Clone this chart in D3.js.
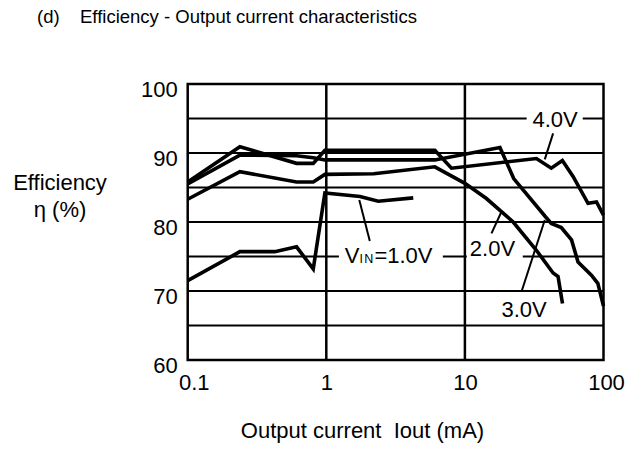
<!DOCTYPE html>
<html><head><meta charset="utf-8">
<script src="https://cdn.jsdelivr.net/npm/d3@7"></script>
<style>
body{margin:0;background:#fff}
svg{display:block}
text{font-family:"Liberation Sans",Arial,Helvetica,sans-serif;fill:#000}
</style>
</head><body>
<svg id="c" width="642" height="450"></svg>
<script>
// ---- data ----
const xTicks = [0.1, 1, 10, 100];
const yTicks = [60, 70, 80, 90, 100];
const yGrid = [65, 70, 75, 80, 85, 90, 95];
const xGrid = [1, 10];

const seriesNames = ["VIN=1.0V", "2.0V", "3.0V", "4.0V"];
const v10Current = [0.1, 0.238, 0.425, 0.61, 0.805, 0.977, 1.75, 2.37, 4.24];
const v10Eff     = [71.5, 75.7, 75.7, 76.4, 73.2, 84.2, 83.7, 83.0, 83.5];
const v20Current = [0.1, 0.238, 0.61, 0.805, 0.977, 2.2, 6.07, 10, 14.3, 22.3, 32.8, 43.3, 47, 50.6];
const v20Eff     = [83.3, 87.3, 85.8, 85.8, 86.9, 87.0, 88.0, 85.6, 83.4, 80.0, 75.9, 72.6, 72.1, 68.2];
const v30Current = [0.1, 0.238, 0.61, 0.805, 0.977, 6.07, 17.9, 22.5, 38, 42, 49.6, 58.8, 65.5, 81.8, 91, 100];
const v30Eff     = [85.5, 89.7, 89.6, 89.3, 89.0, 89.0, 90.8, 86.3, 80.8, 79.8, 79.2, 77.4, 74.2, 72.3, 71.1, 67.8];
const v40Current = [0.1, 0.238, 0.61, 0.805, 0.977, 6.07, 8.0, 32.8, 42, 50.5, 60.3, 77.3, 89, 100];
const v40Eff     = [85.8, 90.9, 88.5, 88.5, 90.4, 90.4, 87.8, 89.2, 87.8, 88.9, 86.6, 82.7, 82.9, 81.0];

// label annotations (data coordinates)
const labelText = ["4.0V", "2.0V", "3.0V"];
const labelX    = [30.7, 10.85, 18.36];
const labelY    = [93.81, 75.07, 66.28];
const vinX = 1.36, vinY = 74.06;
// gaps in grid behind labels
const gapX0 = [1.233, 10.32, 27.9];
const gapX1 = [6.93, 26.15, 70.8];
const gapY0 = [73.33, 74.64, 93.62];
const gapY1 = [76.67, 77.39, 96.38];
// pointer lines
const ptrX0 = [43.3, 15.55, 25.6, 1.73];
const ptrY0 = [92.85, 78.36, 69.9, 83.19];
const ptrX1 = [37.7, 18.36, 37.7, 2.06];
const ptrY1 = [89.08, 81.49, 80.29, 77.25];

// ---- chart ----
const svg = d3.select("#c");
const x = d3.scaleLog().domain([0.1, 100]).range([187.7, 603.5]);
const y = d3.scaleLinear().domain([60, 100]).range([360, 84]);

// title
svg.append("text").attr("x", 37).attr("y", 22.5).style("font-size", "18.5px").text("(d)");
svg.append("text").attr("x", 80).attr("y", 22.5).style("font-size", "18.5px")
  .text("Efficiency - Output current characteristics");

// grid
svg.append("g").selectAll("line").data(yGrid).join("line")
  .attr("x1", x(0.1)).attr("x2", x(100)).attr("y1", d => y(d)).attr("y2", d => y(d))
  .attr("stroke", "#000").attr("stroke-width", 2);
svg.append("g").selectAll("line").data(xGrid).join("line")
  .attr("x1", d => x(d)).attr("x2", d => x(d)).attr("y1", y(60)).attr("y2", y(100))
  .attr("stroke", "#000").attr("stroke-width", 2.5);

// white gaps behind labels
svg.append("g").selectAll("rect").data(gapX0).join("rect")
  .attr("x", (d, i) => x(d)).attr("width", (d, i) => x(gapX1[i]) - x(d))
  .attr("y", (d, i) => y(gapY1[i])).attr("height", (d, i) => y(gapY0[i]) - y(gapY1[i]))
  .attr("fill", "#fff");

// border
svg.append("rect").attr("x", x(0.1)).attr("y", y(100))
  .attr("width", x(100) - x(0.1)).attr("height", y(60) - y(100))
  .attr("fill", "none").attr("stroke", "#000").attr("stroke-width", 2.5);

// curves
const series = [
  d3.zip(v10Current, v10Eff), d3.zip(v20Current, v20Eff),
  d3.zip(v30Current, v30Eff), d3.zip(v40Current, v40Eff)
];
const line = d3.line().x(d => x(d[0])).y(d => y(d[1]));
svg.append("g").selectAll("path").data(series).join("path")
  .attr("d", line).attr("fill", "none").attr("stroke", "#000")
  .attr("stroke-width", 3.6).attr("stroke-linejoin", "miter").attr("stroke-miterlimit", 3);

// pointers
svg.append("g").selectAll("line").data(ptrX0).join("line")
  .attr("x1", d => x(d)).attr("y1", (d, i) => y(ptrY0[i]))
  .attr("x2", (d, i) => x(ptrX1[i])).attr("y2", (d, i) => y(ptrY1[i]))
  .attr("stroke", "#000").attr("stroke-width", 2);

// labels
svg.append("g").selectAll("text").data(labelText).join("text")
  .attr("x", (d, i) => x(labelX[i])).attr("y", (d, i) => y(labelY[i]))
  .style("font-size", "22px").text(d => d);
const vin = svg.append("text").attr("x", x(vinX)).attr("y", y(vinY)).style("font-size", "22px");
vin.append("tspan").text("V");
vin.append("tspan").style("font-size", "12.5px").attr("letter-spacing", "1.2").text("IN");
vin.append("tspan").text("=1.0V");

// axes
const ya = svg.append("g").attr("transform", `translate(${x(0.1)},0)`)
  .call(d3.axisLeft(y).tickValues(yTicks).tickSize(0).tickPadding(10).tickFormat(d3.format("d")));
ya.select(".domain").remove();
ya.selectAll("text").style("font-size", "22px").attr("dy", "0.55em")
  .style("font-family", '"Liberation Sans",Arial,Helvetica,sans-serif');

const xa = svg.append("g").attr("transform", `translate(0,${y(60)})`)
  .call(d3.axisBottom(x).tickValues(xTicks).tickSize(0).tickPadding(14)
    .tickFormat(d => d < 1 ? "0.1" : String(d)));
xa.select(".domain").remove();
xa.selectAll("text").style("font-size", "22px")
  .style("font-family", '"Liberation Sans",Arial,Helvetica,sans-serif')
  .attr("dx", d => d === 0.1 ? 6 : (d === 100 ? 2.5 : 0));

// axis titles
svg.append("text").attr("x", 362.5).attr("y", 438).attr("text-anchor", "middle")
  .style("font-size", "22px").attr("xml:space", "preserve").text("Output current  Iout (mA)");
svg.append("text").attr("x", 60).attr("y", 190).attr("text-anchor", "middle")
  .style("font-size", "22px").text("Efficiency");
svg.append("text").attr("x", 60).attr("y", 217).attr("text-anchor", "middle")
  .style("font-size", "22px").text("η (%)");
</script>
</body></html>
